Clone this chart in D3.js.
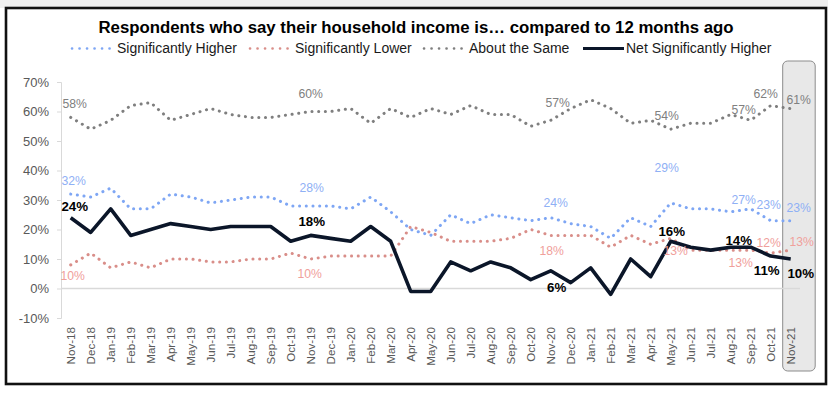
<!DOCTYPE html>
<html>
<head>
<meta charset="utf-8">
<script src="https://cdn.jsdelivr.net/npm/d3@7"></script>
<style>
  body { margin: 0; background: #fff; }
  svg { display: block; font-family: Arial, "Liberation Sans", sans-serif; }
</style>
</head>
<body>
<svg id="chart" width="833" height="394"></svg>
<script>
// data
var months = ["Nov-18","Dec-18","Jan-19","Feb-19","Mar-19","Apr-19","May-19","Jun-19","Jul-19","Aug-19","Sep-19","Oct-19",
  "Nov-19","Dec-19","Jan-20","Feb-20","Mar-20","Apr-20","May-20","Jun-20","Jul-20","Aug-20","Sep-20","Oct-20",
  "Nov-20","Dec-20","Jan-21","Feb-21","Mar-21","Apr-21","May-21","Jun-21","Jul-21","Aug-21","Sep-21","Oct-21","Nov-21"];

var higher = [32,31,34,27,27,32,31,29,30,31,31,28,28,28,27,31,26,20,18,25,22,25,24,23,24,22,21,17,24,21,29,27,27,26,27,23,23];
var lower  = [8,12,7,9,7,10,10,9,9,10,10,12,10,11,11,11,11,21,19,16,16,16,17,20,18,18,18,14,18,15,17,13,13,13,13,12,13];
var same   = [58,54,57,62,63,57,59,61,59,58,58,59,60,60,61,56,61,58,61,59,62,59,59,55,57,61,64,61,56,57,54,56,56,59,57,62,61];
var net    = [24,19,27,18,20,22,21,20,21,21,21,16,18,17,16,21,16,-1,-1,9,6,9,7,3,6,2,7,-2,10,4,16,14,13,14,14,11,10];

var yTicks = [-10,0,10,20,30,40,50,60,70];

// data labels: [month index, text]
var higherLabels = [[0,"32%"],[12,"28%"],[24,"24%"],[30,"29%"],[34,"27%"],[35,"23%"],[36,"23%"]];
var lowerLabels  = [[0,"10%"],[12,"10%"],[24,"18%"],[30,"13%"],[34,"13%"],[35,"12%"],[36,"13%"]];
var sameLabels   = [[0,"58%"],[12,"60%"],[24,"57%"],[30,"54%"],[34,"57%"],[35,"62%"],[36,"61%"]];
var netLabels    = [[0,"24%"],[12,"18%"],[24,"6%"],[30,"16%"],[34,"14%"],[35,"11%"],[36,"10%"]];

var svg = d3.select("#chart");

// frame
svg.append("rect").attr("x",0).attr("y",0).attr("width",828).attr("height",8).attr("fill","#efefef");
svg.append("rect").attr("x",6).attr("y",8).attr("width",820).attr("height",376)
  .attr("fill","#fff").attr("stroke","#111").attr("stroke-width",2.6);

var x = d3.scalePoint().domain(months).range([70.7, 790.7]);
var y = d3.scaleLinear().domain([-10,70]).range([318, 82]);

// highlight box for last month
svg.append("rect").attr("x",x("Nov-21")-8).attr("y",61).attr("width",32.5).attr("height",310)
  .attr("rx",5).attr("fill","#e8e8e8").attr("stroke","#8c8c8c").attr("stroke-width",1);

// title
svg.append("text").attr("x",416).attr("y",33).attr("text-anchor","middle")
  .attr("font-size",16.8).attr("font-weight","bold").attr("fill","#000")
  .text("Respondents who say their household income is\u2026 compared to 12 months ago");

// y axis
var yAxis = d3.axisLeft(y).tickValues(yTicks).tickSize(4).tickFormat(function(d){ return d + "%"; });
var gy = svg.append("g").attr("transform","translate(61,0)").call(yAxis);
gy.select(".domain").attr("stroke","#d9d9d9");
gy.selectAll(".tick line").attr("stroke","#d9d9d9");
gy.selectAll(".tick text").attr("x",-12).attr("font-size",13).attr("fill","#595959").attr("font-family","Arial, 'Liberation Sans', sans-serif");

// zero line
svg.append("line").attr("x1",61).attr("x2",800).attr("y1",y(0)).attr("y2",y(0))
  .attr("stroke","#d9d9d9").attr("stroke-width",1.5);

// x axis labels
var xAxis = d3.axisBottom(x).tickSize(0);
var gx = svg.append("g").attr("transform","translate(0,327)").call(xAxis);
gx.select(".domain").remove();
gx.selectAll(".tick text")
  .attr("transform","rotate(-90)").attr("x",0).attr("y",0).attr("dy","0.35em")
  .attr("text-anchor","end").attr("font-size",11.6).attr("fill","#595959")
  .attr("font-family","Arial, 'Liberation Sans', sans-serif");

var line = d3.line().x(function(d,i){ return x(months[i]); }).y(function(d){ return y(d); });

function dotted(vals, color) {
  svg.append("path").datum(vals).attr("d",line).attr("fill","none")
    .attr("stroke",color).attr("stroke-width",3).attr("stroke-linecap","round")
    .attr("stroke-dasharray","0.1 6.6");
}

var cBlue = "#7ea6f4", cPink = "#d98e89", cGray = "#7f7f7f", cNet = "#0b1629";
dotted(same, cGray);
dotted(higher, cBlue);
dotted(lower, cPink);
svg.append("path").datum(net).attr("d",line).attr("fill","none")
  .attr("stroke",cNet).attr("stroke-width",3.6).attr("stroke-linejoin","round");

// label offsets (dx, dy from the point)
var offHigher = {0:[3,-13],12:[1,-18],24:[5,-15],30:[-4,-35],34:[-7,-9],35:[-2,-16],36:[8,-13]};
var offLower  = {0:[2,11],12:[-1,15],24:[1,15],30:[5,12],34:[-10,13],35:[-2,-10],36:[11,-8]};
var offSame   = {0:[4,-14],12:[0,-18],24:[7,-18],30:[-4,-13],34:[-7,-11],35:[-5,-12],36:[8,-9]};
var offNet    = {0:[4,-11],12:[1,-14],24:[6,17],30:[1,-10],34:[-12,-7],35:[-4,14],36:[10,14]};

function labels(list, vals, off, color, bold) {
  svg.append("g").selectAll("text").data(list).join("text")
    .attr("x", function(d){ return x(months[d[0]]) + off[d[0]][0]; })
    .attr("y", function(d){ return y(vals[d[0]]) + off[d[0]][1]; })
    .attr("dy","0.35em").attr("text-anchor","middle")
    .attr("font-size", bold ? 13.3 : 12.2).attr("font-weight", bold ? "bold" : "normal")
    .attr("fill", color).text(function(d){ return d[1]; });
}
labels(sameLabels, same, offSame, "#808080", false);
labels(higherLabels, higher, offHigher, "#8fb0f5", false);
labels(lowerLabels, lower, offLower, "#f0a09b", false);
labels(netLabels, net, offNet, "#000", true);

// legend
var legend = [
  {name:"Significantly Higher", color:cBlue, x1:72, x2:110, tx:117, dot:true},
  {name:"Significantly Lower", color:cPink, x1:250, x2:288, tx:295, dot:true},
  {name:"About the Same", color:cGray, x1:424, x2:462, tx:469, dot:true},
  {name:"Net Significantly Higher", color:cNet, x1:583, x2:624, tx:626, dot:false}
];
var lg = svg.append("g");
legend.forEach(function(l){
  var ln = lg.append("line").attr("x1",l.x1).attr("x2",l.x2).attr("y1",48.5).attr("y2",48.5).attr("stroke",l.color);
  if (l.dot) ln.attr("stroke-width",2.6).attr("stroke-linecap","round").attr("stroke-dasharray","0.1 7.4");
  else ln.attr("stroke-width",3.2);
  lg.append("text").attr("x",l.tx).attr("y",53).attr("font-size",14).attr("fill","#1a1a1a").text(l.name);
});
</script>
</body>
</html>
